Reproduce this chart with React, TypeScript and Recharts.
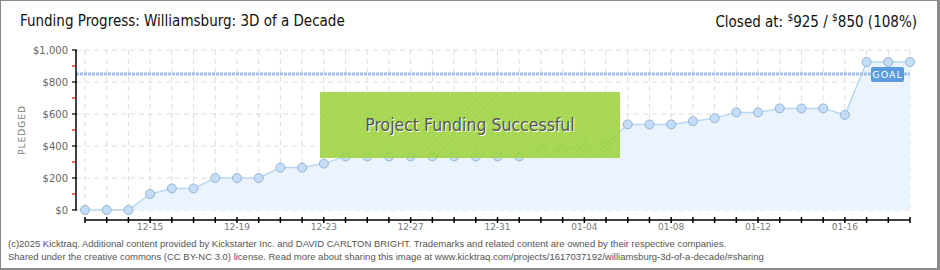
import { ComposedChart, Area, XAxis, YAxis, CartesianGrid, ReferenceLine } from 'recharts';

const dates = [
  '12-12', '12-13', '12-14', '12-15', '12-16', '12-17', '12-18', '12-19', '12-20', '12-21',
  '12-22', '12-23', '12-24', '12-25', '12-26', '12-27', '12-28', '12-29', '12-30', '12-31',
  '01-01', '01-02', '01-03', '01-04', '01-05', '01-06', '01-07', '01-08', '01-09', '01-10',
  '01-11', '01-12', '01-13', '01-14', '01-15', '01-16', '01-17', '01-18', '01-19',
];
const pledged = [
  0, 0, 0, 100, 135, 135, 200, 200, 200, 265,
  265, 290, 335, 335, 335, 335, 335, 335, 335, 335,
  335, 380, 380, 395, 410, 535, 535, 535, 555, 573,
  610, 610, 635, 635, 635, 594, 925, 925, 925,
];
const xTickLabels = ['12-15', '12-19', '12-23', '12-27', '12-31', '01-04', '01-08', '01-12', '01-16'];
const yTicks = [0, 100, 200, 300, 400, 500, 600, 700, 800, 900, 1000];
const yMajor = [0, 200, 400, 600, 800, 1000];
const goal = 850;
const closedAt = 925;

const data = dates.map((d, i) => ({ i, date: d, pledged: pledged[i] }));
const xTicks = dates.map((_, i) => i);
const pct = Math.floor((closedAt / goal) * 100);

const money = (v: number) => '$' + v.toLocaleString('en-US');

function XTick(props: any) {
  const { x, y, payload } = props;
  const label = dates[payload.value];
  const show = xTickLabels.includes(label);
  return (
    <g>
      <line x1={x} x2={x} y1={y + 7} y2={y + 13} stroke="#000" strokeWidth={1.5} />
      {show && (
        <text x={x} y={y + 20} textAnchor="middle" fontSize={9} fill="#777" fontFamily="DejaVu Sans, sans-serif">
          {label}
        </text>
      )}
    </g>
  );
}

function YTick(props: any) {
  const { x, y, payload } = props;
  const major = yMajor.includes(payload.value);
  return (
    <g>
      <line
        x1={x - 4}
        x2={major ? x + 1 : x - 1}
        y1={y}
        y2={y}
        stroke={major ? '#000' : '#e00'}
        strokeWidth={1.2}
      />
      {major && (
        <text x={x - 8} y={y + 4} textAnchor="end" fontSize={10} fill="#666" fontFamily="DejaVu Sans, sans-serif">
          {money(payload.value)}
        </text>
      )}
    </g>
  );
}

function GoalTag(props: any) {
  const { viewBox } = props;
  const right = viewBox.x + viewBox.width - 6;
  return (
    <g>
      <rect x={right - 33} y={viewBox.y - 7} width={33} height={15} rx={2} fill="#5b9bdc" />
      <text
        x={right - 16.5}
        y={viewBox.y + 4}
        textAnchor="middle"
        fontSize={9.5}
        letterSpacing={1}
        fill="#fff"
        fontFamily="DejaVu Sans, sans-serif"
      >
        GOAL
      </text>
    </g>
  );
}

export default function App() {
  return (
    <div
      style={{
        position: 'absolute',
        left: 0,
        top: 0,
        width: 940,
        height: 270,
        background: '#fff',
        fontFamily: '"DejaVu Sans Condensed", "DejaVu Sans", sans-serif',
      }}
    >
      <div style={{ position: 'absolute', left: 20, top: 12, fontSize: 15, color: '#111' }}>
        Funding Progress: Williamsburg: 3D of a Decade
      </div>
      <div style={{ position: 'absolute', right: 23, top: 12, fontSize: 15, color: '#111' }}>
        Closed at: <sup style={{ fontSize: 10 }}>$</sup>{closedAt} / <sup style={{ fontSize: 10 }}>$</sup>
        {goal} ({pct}%)
      </div>

      <ComposedChart width={940} height={270} data={data} margin={{ top: 50, right: 30, bottom: 30, left: 16 }}>
        <CartesianGrid
          stroke="#ddd"
          strokeDasharray="5 4"
          horizontalValues={yMajor}
          verticalValues={xTicks}
        />
        <XAxis
          type="number"
          dataKey="i"
          domain={[0, dates.length - 1]}
          ticks={xTicks}
          interval={0}
          padding={{ left: 9, right: 0 }}
          axisLine={false}
          tickLine={false}
          tickSize={0}
          tickMargin={0}
          height={30}
          tick={<XTick />}
        />
        <YAxis
          domain={[0, 1000]}
          ticks={yTicks}
          interval={0}
          width={60}
          axisLine={{ stroke: '#000', strokeWidth: 1.5 }}
          tickLine={false}
          tickSize={0}
          tickMargin={0}
          tick={<YTick />}
        />
        <Area
          type="linear"
          dataKey="pledged"
          fill="#ebf4fd"
          fillOpacity={1}
          stroke="#b9d7f3"
          strokeWidth={1.5}
          dot={{ r: 4.5, fill: '#c4ddf8', stroke: '#95b3d4', strokeWidth: 1, fillOpacity: 1 }}
          isAnimationActive={false}
        />
        <ReferenceLine
          y={goal}
          stroke="#9fc2e7"
          strokeWidth={3}
          strokeDasharray="3 1"
          label={<GoalTag />}
        />
        <ReferenceLine
          segment={[{ x: 0, y: -62.5 }, { x: dates.length - 1, y: -62.5 }]}
          stroke="#000"
          strokeWidth={1.5}
          ifOverflow="visible"
        />
      </ComposedChart>

      <div
        style={{
          position: 'absolute',
          left: 14,
          top: 130,
          transform: 'translate(-50%, -50%) rotate(-90deg)',
          transformOrigin: 'center',
          fontSize: 9,
          color: '#777',
          letterSpacing: 1,
          fontFamily: 'DejaVu Sans, sans-serif',
          marginLeft: 8,
        }}
      >
        PLEDGED
      </div>

      <div
        style={{
          position: 'absolute',
          left: 320,
          top: 92,
          width: 300,
          height: 66,
          background:
            'repeating-linear-gradient(135deg, rgba(163,214,72,0.92) 0px, rgba(163,214,72,0.92) 3px, rgba(156,208,66,0.92) 3px, rgba(156,208,66,0.92) 4px)',
          display: 'flex',
          alignItems: 'center',
          justifyContent: 'center',
          fontSize: 17.5,
          color: '#555',
          textShadow: '1px 1px 0 #fff',
        }}
      >
        Project Funding Successful
      </div>

      <div
        style={{
          position: 'absolute',
          left: 8,
          top: 237,
          fontSize: 9.5,
          lineHeight: '13px',
          color: '#555',
          fontFamily: '"Liberation Sans", sans-serif',
          whiteSpace: 'nowrap',
        }}
      >
        <div>
          (c)2025 Kicktraq. Additional content provided by Kickstarter Inc. and DAVID CARLTON BRIGHT. Trademarks and
          related content are owned by their respective companies.
        </div>
        <div>
          Shared under the creative commons (CC BY-NC 3.0) license. Read more about sharing this image at
          www.kicktraq.com/projects/1617037192/williamsburg-3d-of-a-decade/#sharing
        </div>
      </div>

      <div
        style={{
          position: 'absolute',
          left: 0,
          top: 0,
          width: 940,
          height: 270,
          boxSizing: 'border-box',
          borderStyle: 'solid',
          borderColor: '#8a8a8a',
          borderWidth: '1px 3px 2px 1px',
          pointerEvents: 'none',
        }}
      />
    </div>
  );
}
